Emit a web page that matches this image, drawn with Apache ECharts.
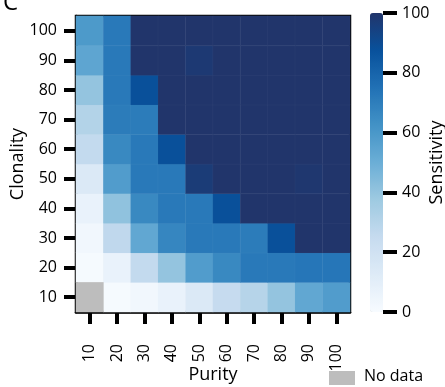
<!DOCTYPE html>
<html><head><meta charset="utf-8">
<script src="https://cdn.jsdelivr.net/npm/echarts@6/dist/echarts.min.js"></script>
<style>html,body{margin:0;padding:0;background:#fff}#c{width:445px;height:387px}</style>
</head><body><div id="c"></div>
<script>
var purity = ['10','20','30','40','50','60','70','80','90','100'];
var clonality = ['10','20','30','40','50','60','70','80','90','100'];
// sensitivity rows, clonality 10 (first) .. 100 (last); columns purity 10..100; null = no data
var sens10  = [null, 1, 3, 7, 14, 25, 30, 40, 53, 58];
var sens20  = [1, 7, 26, 40, 58, 66, 72, 72, 73, 73];
var sens30  = [3, 27, 53, 67, 72, 72, 71, 88, 100, 100];
var sens40  = [7, 41, 66, 72, 72, 88, 100, 100, 100, 100];
var sens50  = [14, 58, 72, 72, 97, 100, 100, 100, 99, 100];
var sens60  = [26, 66, 72, 88, 100, 100, 100, 100, 100, 100];
var sens70  = [31, 71, 71, 100, 100, 100, 100, 100, 100, 100];
var sens80  = [40, 72, 88, 100, 100, 100, 100, 100, 100, 100];
var sens90  = [54, 72, 100, 100, 98, 100, 100, 100, 100, 100];
var sens100 = [59, 72, 100, 100, 100, 100, 100, 100, 100, 100];
var colorTicks = [0, 20, 40, 60, 80, 100];

var rows = [sens10, sens20, sens30, sens40, sens50, sens60, sens70, sens80, sens90, sens100];
var data = [], noData = [];
rows.forEach(function (r, yi) {
  r.forEach(function (v, xi) {
    if (v === null) noData.push([xi, yi, 0]); else data.push([xi, yi, v]);
  });
});

var FONT = 'Open Sans';
var TICK = {show: true, inside: false, alignWithLabel: true, length: 12, lineStyle: {width: 4, color: '#000'}};
var chart = echarts.init(document.getElementById('c'), null, {renderer: 'canvas'});
chart.setOption({
  animation: false,
  textStyle: {fontFamily: FONT, color: '#000'},
  title: {text: 'C', left: -2, top: -14, textStyle: {fontFamily: FONT, fontSize: 24, fontWeight: 'normal', color: '#000'}},
  grid: [
    {left: 76, top: 16, width: 274, height: 296, show: true, borderColor: '#000', borderWidth: 2.5,
     backgroundColor: 'transparent', containLabel: false, outerBoundsMode: 'none'},
    {left: 370, top: 13, width: 13, height: 299, containLabel: false, outerBoundsMode: 'none'}
  ],
  xAxis: [
    {type: 'category', data: purity, gridIndex: 0,
     axisLine: {show: true, onZero: false, lineStyle: {color: '#000', width: 2.5}},
     axisTick: TICK,
     axisLabel: {show: true, rotate: 90, margin: 32, fontSize: 16, color: '#000', fontFamily: FONT},
     name: 'Purity', nameLocation: 'middle', nameGap: 54, nameMoveOverlap: false,
     nameTextStyle: {fontSize: 18, color: '#000', fontFamily: FONT},
     splitLine: {show: false}},
    {type: 'value', gridIndex: 1, show: false, min: 0, max: 1}
  ],
  yAxis: [
    {type: 'category', data: clonality, gridIndex: 0,
     axisLine: {show: true, onZero: false, lineStyle: {color: '#000', width: 2.5}},
     axisTick: TICK,
     axisLabel: {show: true, margin: 19, fontSize: 16, color: '#000', fontFamily: FONT},
     name: 'Clonality', nameLocation: 'middle', nameGap: 49, nameRotate: 90, nameMoveOverlap: false,
     nameTextStyle: {fontSize: 18, color: '#000', fontFamily: FONT},
     splitLine: {show: false}},
    {type: 'value', gridIndex: 1, position: 'right', min: 0, max: 100, interval: 20,
     axisLine: {show: true, onZero: false, lineStyle: {color: 'rgba(0,0,0,0)', width: 0}},
     axisTick: {show: true, inside: false, length: 14, lineStyle: {width: 4, color: '#000'}},
     axisLabel: {show: true, margin: 19, fontSize: 16, color: '#000', fontFamily: FONT,
                 formatter: function (v) { return colorTicks.indexOf(v) >= 0 ? String(v) : ''; }},
     splitLine: {show: false},
     name: 'Sensitivity', nameLocation: 'middle', nameGap: 45, nameRotate: 90, nameMoveOverlap: false,
     nameTextStyle: {fontSize: 18, color: '#000', fontFamily: FONT}}
  ],
  visualMap: {
    type: 'continuous', min: 0, max: 100, seriesIndex: 0, calculable: false,
    left: 370, top: 13, itemWidth: 13, itemHeight: 299, padding: 0, text: null,
    showLabel: false, z: -1,
    inRange: {color: ['#f7fbff', '#deebf7', '#c6dbef', '#9ecae1', '#6baed6', '#4292c6', '#2171b5', '#08519c', '#21356b']}
  },
  graphic: [
    {type: 'rect', left: 329, top: 371, shape: {width: 26, height: 14}, style: {fill: '#bdbdbd'}},
    {type: 'text', left: 364, top: 368, style: {text: 'No data', font: '16px "Open Sans"', fill: '#000'}}
  ],
  series: [
    {type: 'heatmap', xAxisIndex: 0, yAxisIndex: 0, data: data,
     itemStyle: {borderColor: 'rgba(255,255,255,0.06)', borderWidth: 0.6}},
    {type: 'heatmap', xAxisIndex: 0, yAxisIndex: 0, data: noData, itemStyle: {color: '#bdbdbd'}},
    {type: 'line', xAxisIndex: 1, yAxisIndex: 1, data: []}
  ]
});
</script></body></html>
